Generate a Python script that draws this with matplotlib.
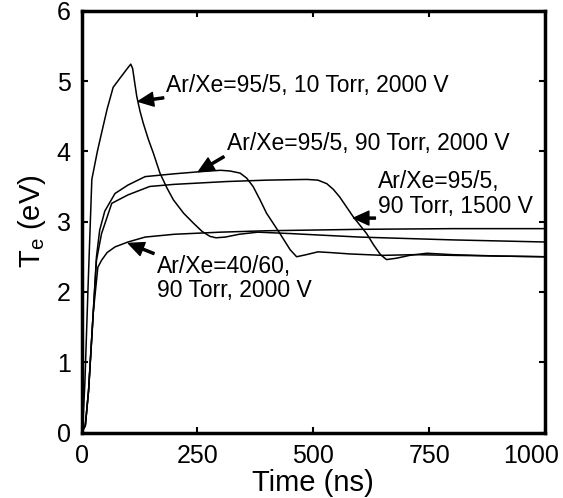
import matplotlib
matplotlib.use("Agg")
import matplotlib.pyplot as plt
from matplotlib.transforms import ScaledTranslation

plt.rcParams["font.family"] = ["Liberation Sans", "DejaVu Sans"]
plt.rcParams["mathtext.default"] = "regular"

# Ar/Xe=95/5, 10 Torr, 2000 V
t_a = [0, 4, 7, 14, 22, 34, 43, 55, 68, 85, 100, 106, 110, 114, 119, 126, 133, 144, 155,
       169, 184, 198, 220, 241, 260, 277, 290, 310, 340, 380, 450, 600, 800, 1000]
te_a = [0, 0.3, 0.7, 2.1, 3.6, 4.0, 4.26, 4.6, 4.91, 5.06, 5.19, 5.24, 5.18, 5.0, 4.78,
        4.57, 4.40, 4.17, 3.97, 3.69, 3.48, 3.31, 3.12, 2.98, 2.86, 2.79, 2.77, 2.78, 2.82,
        2.85, 2.83, 2.78, 2.74, 2.71]

# Ar/Xe=95/5, 90 Torr, 2000 V
t_b = [0, 8, 15, 25, 32, 39, 50, 72, 100, 137, 200, 255, 300, 320, 342, 356, 370, 385,
       399, 414, 428, 450, 464, 485, 510, 536, 579, 650, 720, 800, 1000]
te_b = [0, 0.1, 0.6, 1.7, 2.5, 2.88, 3.15, 3.40, 3.52, 3.64, 3.68, 3.71, 3.73, 3.72, 3.69,
        3.62, 3.50, 3.31, 3.12, 2.97, 2.83, 2.60, 2.50, 2.53, 2.57, 2.56, 2.54, 2.52,
        2.53, 2.52, 2.50]

# Ar/Xe=95/5, 90 Torr, 1500 V
t_c = [0, 8, 15, 25, 32, 43, 65, 100, 147, 200, 313, 400, 486, 510, 529, 543, 557, 586,
       615, 630, 645, 658, 680, 708, 745, 800, 900, 1000]
te_c = [0, 0.1, 0.6, 1.7, 2.45, 2.83, 3.26, 3.38, 3.50, 3.53, 3.57, 3.59, 3.60, 3.59, 3.54,
        3.46, 3.35, 3.07, 2.83, 2.67, 2.53, 2.46, 2.48, 2.52, 2.55, 2.53, 2.51, 2.50]

# Ar/Xe=40/60, 90 Torr, 2000 V
t_d = [0, 8, 15, 25, 35, 43, 55, 72, 100, 137, 200, 300, 400, 600, 800, 1000]
te_d = [0, 0.1, 0.6, 1.7, 2.35, 2.45, 2.56, 2.64, 2.71, 2.78, 2.82, 2.85, 2.87, 2.89, 2.90, 2.90]

fig = plt.figure(figsize=(5.63, 4.98), dpi=100)
ax = fig.add_axes([0.145, 0.1315, 0.823, 0.847])

for t, te in [(t_a, te_a), (t_b, te_b), (t_c, te_c), (t_d, te_d)]:
    ax.plot(t, te, color="black", lw=1.1)

ax.set_xlim(0, 1000)
ax.set_ylim(0, 6)
ax.set_xticks([0, 250, 500, 750, 1000])
ax.set_yticks([0, 1, 2, 3, 4, 5, 6])
ax.tick_params(direction="in", top=True, right=True, length=4, width=1.5,
               labelsize=18, pad=8)
for s in ax.spines.values():
    s.set_linewidth(2.5)

ax.set_xlabel("Time (ns)", fontsize=21, labelpad=1)
ax.set_ylabel("T$_e$ (eV)", fontsize=21, labelpad=6)

# last x label sits a bit left of its tick in the original
lbl = ax.get_xticklabels()[-1]
lbl.set_transform(lbl.get_transform() + ScaledTranslation(-0.14, 0, fig.dpi_scale_trans))

arrow = dict(facecolor="black", edgecolor="black", width=1.5, headwidth=10,
             headlength=11, shrink=0)
fs = 16.5
ax.annotate("Ar/Xe=95/5, 10 Torr, 2000 V", xy=(122, 4.71), xytext=(183, 4.93),
            fontsize=fs, va="center", arrowprops=arrow)
ax.annotate("Ar/Xe=95/5, 90 Torr, 2000 V", xy=(252, 3.71), xytext=(313, 4.11),
            fontsize=fs, va="center", arrowprops=arrow)
ax.annotate("Ar/Xe=95/5,\n90 Torr, 1500 V", xy=(587, 3.05), xytext=(640, 3.39),
            fontsize=fs, va="center", linespacing=1.1, arrowprops=arrow)
ax.annotate("Ar/Xe=40/60,\n90 Torr, 2000 V", xy=(101, 2.69), xytext=(162, 2.19),
            fontsize=fs, va="center", linespacing=1.1, arrowprops=arrow)

fig.savefig("out.png", dpi=100)
